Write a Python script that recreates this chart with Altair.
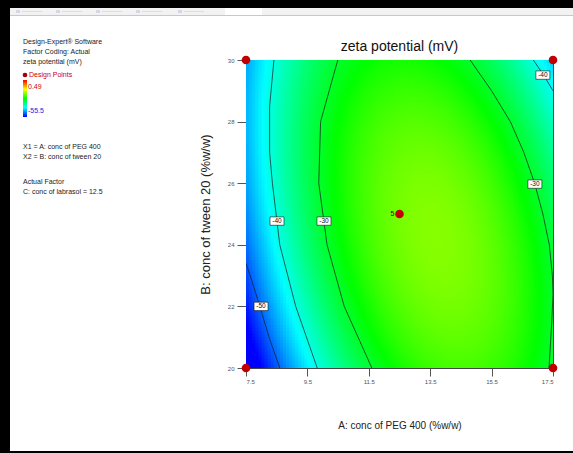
import altair as alt
import numpy as np
import pandas as pd

alt.data_transformers.disable_max_rows()

# ---------------- data ----------------
x_ticks = [7.5, 9.5, 11.5, 13.5, 15.5, 17.5]
y_ticks = [20, 22, 24, 26, 28, 30]

# fitted quadratic response-surface coefficients (coded units), estimated from contour positions
coef_b0 = -21.1
coef_A = 8.08
coef_B = 0.10
coef_AB = -6.96
coef_AA = -18.8
coef_BB = -5.50

# colour scale (Design-Expert blue -> red), legend range
legend_high = 0.49
legend_low = -55.5

# design points
dp_A = [7.5, 7.5, 17.5, 17.5, 12.5]
dp_B = [20, 30, 20, 30, 25]

# contour lines
c50_A = [8.6, 8.25, 7.95, 7.7, 7.5]
c50_B = [20, 21, 22, 22.8, 23.4]
c40L_A = [9.82, 9.12, 8.6, 8.36, 8.27, 8.27, 8.41]
c40L_B = [20, 22, 24, 26, 27, 28.5, 30]
c30L_A = [11.6, 10.7, 10.14, 9.87, 9.93, 10.49]
c30L_B = [20, 22, 24, 26, 28, 30]
c30R_A = [17.37, 17.46, 17.5, 17.48, 17.38, 17.17, 16.9, 16.55, 16.11, 15.5, 14.8]
c30R_B = [20, 21.5, 22.4, 23, 24, 25, 26, 27, 28, 29, 30]
c40R_A = [16.86, 17.2, 17.5]
c40R_B = [30, 29.5, 29.0]

# contour labels
lab_text = ["-40", "-30", "-40", "-30", "-50"]
lab_A = [17.17, 16.91, 8.51, 10.04, 7.99]
lab_B = [29.51, 25.97, 24.77, 24.77, 22.0]

# ---------------- tables ----------------
n = 100
Ac = 7.5 + (np.arange(n) + 0.5) * 0.1
Bc = 20 + (np.arange(n) + 0.5) * 0.1
AA, BB = np.meshgrid(Ac, Bc)
a = (AA - 12.5) / 5
b = (BB - 25) / 5
Z = (coef_b0 + coef_A * a + coef_B * b + coef_AB * a * b
     + coef_AA * a ** 2 + coef_BB * b ** 2)
grid = pd.DataFrame({
    "x1": (AA - 0.05).ravel(), "x2": (AA + 0.09).ravel(),
    "y1": (BB - 0.05).ravel(), "y2": (BB + 0.09).ravel(),
    "z": Z.ravel(),
})

rows = []
for name, xs_, ys_ in [("m50", c50_A, c50_B), ("m40L", c40L_A, c40L_B),
                       ("m30L", c30L_A, c30L_B), ("m30R", c30R_A, c30R_B),
                       ("m40R", c40R_A, c40R_B)]:
    for i, (xv, yv) in enumerate(zip(xs_, ys_)):
        rows.append({"line": name, "o": i, "A": xv, "B": yv})
contours = pd.DataFrame(rows)
labels = pd.DataFrame({"t": lab_text, "A": lab_A, "B": lab_B})
points = pd.DataFrame({"A": dp_A, "B": dp_B})
center = pd.DataFrame({"A": [dp_A[4]], "B": [dp_B[4]], "t": ["5"]})

# ---------------- styling ----------------
FONT = "'Liberation Sans', Arial, sans-serif"
W, H = 307, 308
OX, OY = 246, 60

xs = alt.Scale(domain=[7.5, 17.5], nice=False, zero=False)
ys = alt.Scale(domain=[20, 30], nice=False, zero=False)
xaxis = alt.Axis(values=x_ticks, format=".1f", grid=False, tickSize=8, tickColor="#555",
                 domainColor="#444", labelFontSize=6, labelColor="#555", labelFont=FONT,
                 labelPadding=2, title="A: conc of PEG 400 (%w/w)", titleFont=FONT,
                 titleFontSize=10, titleFontWeight="normal", titleColor="#222",
                 titleX=W / 2, titleY=57, titleBaseline="middle")
yaxis = alt.Axis(values=y_ticks, format="d", grid=False, tickSize=9, tickColor="#555",
                 domainColor="#444", labelFontSize=6, labelColor="#555", labelFont=FONT,
                 labelPadding=3, title="B: conc of tween 20 (%w/w)", titleFont=FONT,
                 titleFontSize=13, titleFontWeight="normal", titleColor="#222",
                 titleAngle=270, titleX=-41, titleY=H / 2, titleBaseline="middle")


def X(f):
    return alt.X(f, type="quantitative", scale=xs, axis=xaxis)


def Y(f):
    return alt.Y(f, type="quantitative", scale=ys, axis=yaxis)


colour = alt.Color("z:Q", legend=None,
                   scale=alt.Scale(domain=[legend_low, -41.5, -27.5, -13.5, legend_high],
                                   range=["#0000ff", "#00ffff", "#00ff00", "#ffff00", "#ff0000"],
                                   clamp=True, interpolate="rgb"))

heat = alt.Chart(grid).mark_rect(clip=True).encode(
    x=X("x1"), x2="x2", y=Y("y1"), y2="y2", color=colour)

lines = alt.Chart(contours).mark_line(color="#1a1a1a", strokeWidth=0.7, clip=True).encode(
    x=X("A"), y=Y("B"), detail="line:N", order="o:Q")

boxes = alt.Chart(labels).mark_point(
    shape="M-1,-0.6L1,-0.6L1,0.6L-1,0.6Z", filled=True, fill="white", stroke="#111",
    strokeWidth=0.6, opacity=1, size=196).encode(x=X("A"), y=Y("B"))
labtext = alt.Chart(labels).mark_text(fontSize=6.5, font=FONT, color="#111").encode(
    x=X("A"), y=Y("B"), text="t:N")

dots = alt.Chart(points).mark_circle(color="#c00000", size=75, opacity=1).encode(
    x=X("A"), y=Y("B"))
ctext = alt.Chart(center).mark_text(fontSize=7, font=FONT, color="#5a0000", dx=-7, dy=0).encode(
    x=X("A"), y=Y("B"), text="t:N")

dummy = pd.DataFrame({"d": [0]})


def box(x1, y1, x2, y2, color):
    return alt.Chart(dummy).mark_rect(color=color).encode(
        x=alt.value(x1 - OX), x2=alt.value(x2 - OX),
        y=alt.value(y1 - OY), y2=alt.value(y2 - OY))


def txt(s, x, y, size=7, color="#222", align="left"):
    return alt.Chart(pd.DataFrame({"t": [s]})).mark_text(
        align=align, baseline="middle", fontSize=size, font=FONT, color=color).encode(
        x=alt.value(x - OX), y=alt.value(y - OY), text="t:N")


deco = [
    box(0, 0, 573, 8, "#000000"),
    box(0, 8, 573, 15, "#f2f2f2"),
    box(0, 15, 573, 16, "#c8c8c8"),
    box(225, 8, 262, 15, "#ffffff"),
    box(0, 0, 10, 453, "#000000"),
    box(0, 451, 573, 453, "#000000"),
]
for x0 in [16, 56, 96, 136, 178]:
    deco.append(box(x0, 10, x0 + 4, 13, "#d6d6e6"))
    deco.append(box(x0 + 6, 11, x0 + 26, 12, "#dedede"))

bar = alt.Chart(dummy).mark_rect(
    color=alt.Gradient(gradient="linear",
                       stops=[alt.GradientStop(color="#ff0000", offset=0),
                              alt.GradientStop(color="#ffff00", offset=0.25),
                              alt.GradientStop(color="#00ff00", offset=0.5),
                              alt.GradientStop(color="#00ffff", offset=0.75),
                              alt.GradientStop(color="#0000ff", offset=1)],
                       x1=0, x2=0, y1=0, y2=1)).encode(
    x=alt.value(23 - OX), x2=alt.value(27 - OX), y=alt.value(80 - OY), y2=alt.value(117 - OY))
legdot = alt.Chart(dummy).mark_circle(color="#a00000", size=22, opacity=1).encode(
    x=alt.value(25 - OX), y=alt.value(75 - OY))

texts = [
    txt("Design-Expert® Software", 23, 42),
    txt("Factor Coding: Actual", 23, 52),
    txt("zeta potential (mV)", 23, 62),
    txt("Design Points", 29, 75, color="#d00000"),
    txt("0.49", 28, 87, color="#d00000"),
    txt("-55.5", 28, 111, color="#2020e0"),
    txt("X1 = A: conc of PEG 400", 23, 147),
    txt("X2 = B: conc of tween 20", 23, 157),
    txt("Actual Factor", 23, 182),
    txt("C: conc of labrasol = 12.5", 23, 192),
    txt("zeta potential (mV)", OX + W / 2, 47, size=14, color="#111", align="center"),
]

chart = alt.layer(heat, lines, boxes, labtext, dots, ctext, *deco, bar, legdot, *texts).properties(
    width=W, height=H, autosize="none",
    padding={"left": OX, "top": OY, "right": 573 - OX - W, "bottom": 453 - OY - H},
    background="white",
).configure_view(stroke="#444", strokeWidth=1)

chart.save("out.html", embed_options={"renderer": "svg", "actions": False})
